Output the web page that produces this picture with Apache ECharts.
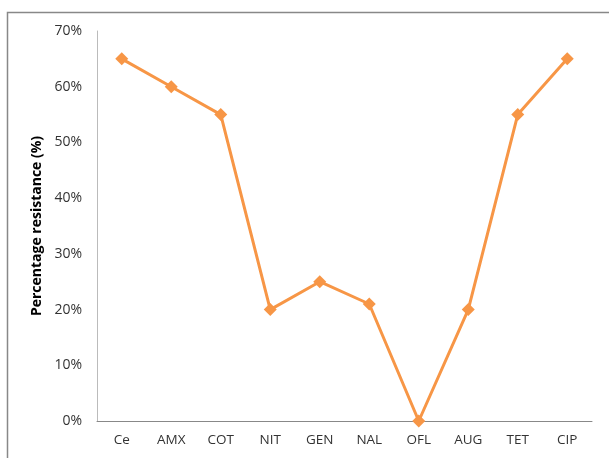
<!DOCTYPE html>
<html>
<head>
<meta charset="utf-8">
<script src="https://cdn.jsdelivr.net/npm/echarts@6/dist/echarts.min.js"></script>
<style>
  html, body { margin: 0; padding: 0; background: #fff; }
  #chart { width: 609px; height: 458px; }
</style>
</head>
<body>
<div id="chart"></div>
<script>
// 抗生素耐药率
const drugs = ['Ce', 'AMX', 'COT', 'NIT', 'GEN', 'NAL', 'OFL', 'AUG', 'TET', 'CIP'];
const resistance = [65, 60, 55, 20, 25, 21, 0, 20, 55, 65];
const yTicks = [0, 10, 20, 30, 40, 50, 60, 70];

const chart = echarts.init(document.getElementById('chart'));
const ORANGE = '#F79646';
const FONT = "'Open Sans', 'Liberation Sans', sans-serif";

chart.setOption({
  animation: false,
  grid: { left: 97, right: 17, top: 31, bottom: 37 },
  xAxis: {
    type: 'category',
    data: drugs,
    boundaryGap: true,
    axisLine: { lineStyle: { color: '#888', width: 1 } },
    axisTick: { show: false },
    axisLabel: { color: '#333', fontSize: 13.5, fontFamily: FONT, margin: 12 }
  },
  yAxis: {
    type: 'value',
    min: yTicks[0],
    max: yTicks[yTicks.length - 1],
    interval: 10,
    name: 'Percentage resistance (%)',
    nameLocation: 'middle',
    nameGap: 52,
    nameTextStyle: { color: '#000', fontSize: 14, fontWeight: 'bold', fontFamily: FONT },
    axisLine: { show: true, lineStyle: { color: '#bbb', width: 1 } },
    axisTick: { show: false },
    splitLine: { show: false },
    axisLabel: { color: '#333', fontSize: 14, fontFamily: FONT, margin: 15, formatter: '{value}%' }
  },
  series: [{
    type: 'line',
    data: resistance,
    symbol: 'diamond',
    symbolSize: 13,
    lineStyle: { color: ORANGE, width: 3 },
    itemStyle: { color: ORANGE }
  }],
  graphic: [{
    type: 'rect',
    shape: { x: 7.5, y: 12.5, width: 700, height: 600 },
    style: { fill: 'none', stroke: '#888', lineWidth: 1.5 },
    silent: true
  }]
});
</script>
</body>
</html>
